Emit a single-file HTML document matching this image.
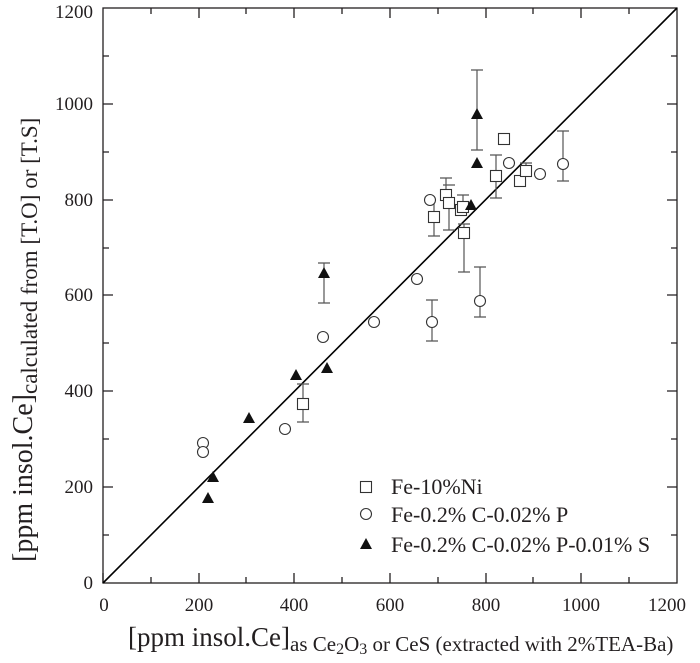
<!DOCTYPE html>
<html><head><meta charset="utf-8"><style>
html,body{margin:0;padding:0;background:#fff;}
svg{display:block;}
text{font-family:"Liberation Serif","Times New Roman",serif;}
</style></head><body>
<svg width="700" height="663" viewBox="0 0 700 663" xmlns="http://www.w3.org/2000/svg" font-family="Liberation Serif, serif">
<g stroke="#231f20" stroke-width="1.3" fill="none">
<rect x="103" y="8" width="574" height="575"/>
<path d="M103,583v-10M199,583v-10M294,583v-10M390,583v-10M486,583v-10M581,583v-10
M151,583v-6M246,583v-6M342,583v-6M438,583v-6M533,583v-6M629,583v-6
M199,8v10M294,8v10M390,8v10M486,8v10M581,8v10
M151,8v6M246,8v6M342,8v6M438,8v6M533,8v6M629,8v6
M103,487h10M103,391h10M103,295h10M103,200h10M103,104h10
M103,535h6M103,439h6M103,343h6M103,248h6M103,152h6M103,56h6
M677,487h-10M677,391h-10M677,295h-10M677,200h-10M677,104h-10
M677,535h-6M677,439h-6M677,343h-6M677,248h-6M677,152h-6M677,56h-6"/>
</g>
<line x1="103" y1="583" x2="677" y2="8" stroke="#000" stroke-width="1.6"/>
<g stroke="#555" stroke-width="1.2" fill="none">
<path d="M477,70V150M471,70h12M471,150h12"/>
<path d="M324,263V303M318,263h12M318,303h12"/>
<path d="M432,300V341M426,300h12M426,341h12"/>
<path d="M563,131V181M557,131h12M557,181h12"/>
<path d="M480,267V317M474,267h12M474,317h12"/>
<path d="M496,155V198M490,155h12M490,198h12"/>
<path d="M526,163V171M520,163h12"/>
<path d="M446,178V195M440,178h12"/>
<path d="M449,203V230M443,230h12M443,185h12"/>
<path d="M434,197V236M428,236h12"/>
<path d="M463,195V207M457,195h12"/>
<path d="M464,224V272M458,272h12M458,224h12"/>
<path d="M303,384V422M297,384h12M297,422h12"/>
</g>
<g stroke="#333" stroke-width="1.1" fill="#fff">
<circle cx="203" cy="443" r="5.5"/><circle cx="203" cy="452" r="5.5"/>
<circle cx="285" cy="429" r="5.5"/><circle cx="323" cy="337" r="5.5"/>
<circle cx="374" cy="322" r="5.5"/><circle cx="417" cy="279" r="5.5"/>
<circle cx="432" cy="322" r="5.5"/><circle cx="430" cy="200" r="5.5"/>
<circle cx="509" cy="163" r="5.5"/><circle cx="540" cy="174" r="5.5"/>
<circle cx="563" cy="164" r="5.5"/><circle cx="480" cy="301" r="5.5"/>
</g>
<g stroke="#333" stroke-width="1.1" fill="#fff">
<rect x="498.5" y="133.5" width="11" height="11"/>
<rect x="490.5" y="170.5" width="11" height="11"/>
<rect x="514.5" y="175.5" width="11" height="11"/>
<rect x="520.5" y="165.5" width="11" height="11"/>
<rect x="440.5" y="189.5" width="11" height="11"/>
<rect x="443.5" y="197.5" width="11" height="11"/>
<rect x="428.5" y="211.5" width="11" height="11"/>
<rect x="455.5" y="204.5" width="11" height="11"/>
<rect x="457.5" y="201.5" width="11" height="11"/>
<rect x="458.5" y="227.5" width="11" height="11"/>
<rect x="297.5" y="398.5" width="11" height="11"/>
</g>
<g fill="#111">
<path d="M477,108l6,11h-12z"/><path d="M477,157l6,11h-12z"/>
<path d="M471,199l6,11h-12z"/><path d="M324,267l6,11h-12z"/>
<path d="M327,362l6,11h-12z"/><path d="M296,369l6,11h-12z"/>
<path d="M249,412l6,11h-12z"/><path d="M213,471l6,11h-12z"/>
<path d="M208,492l6,11h-12z"/>
</g>
<g font-size="19" fill="#231f20" text-anchor="end">
<text x="93" y="589">0</text><text x="93" y="493">200</text>
<text x="93" y="397">400</text><text x="93" y="301">600</text>
<text x="93" y="206">800</text><text x="93" y="110">1000</text>
<text x="93" y="18">1200</text>
</g>
<g font-size="19" fill="#231f20" text-anchor="middle">
<text x="104" y="611">0</text><text x="199" y="611">200</text>
<text x="294" y="611">400</text><text x="390" y="611">600</text>
<text x="486" y="611">800</text><text x="581" y="611">1000</text>
<text x="667" y="611">1200</text>
</g>
<rect x="360.5" y="481.5" width="11" height="11" fill="#fff" stroke="#333" stroke-width="1.1"/>
<circle cx="366" cy="514" r="5.5" fill="#fff" stroke="#333" stroke-width="1.1"/>
<path d="M366,538l6,11h-12z" fill="#111"/>
<g font-size="22" fill="#231f20">
<text x="391" y="494">Fe-10%Ni</text>
<text x="391" y="522">Fe-0.2% C-0.02% P</text>
<text x="391" y="552">Fe-0.2% C-0.02% P-0.01% S</text>
</g>
<text x="128" y="646" font-size="27" fill="#231f20">[ppm insol.Ce]<tspan font-size="21" dy="5">as Ce</tspan><tspan font-size="16" dy="3">2</tspan><tspan font-size="21" dy="-3">O</tspan><tspan font-size="16" dy="3">3</tspan><tspan font-size="21" dy="-3"> or CeS (extracted with 2%TEA-Ba)</tspan></text>
<text transform="translate(32,562) rotate(-90)" font-size="28" fill="#231f20">[ppm insol.Ce]<tspan font-size="23" dy="5">calculated from [T.O] or [T.S]</tspan></text>
</svg>
</body></html>
